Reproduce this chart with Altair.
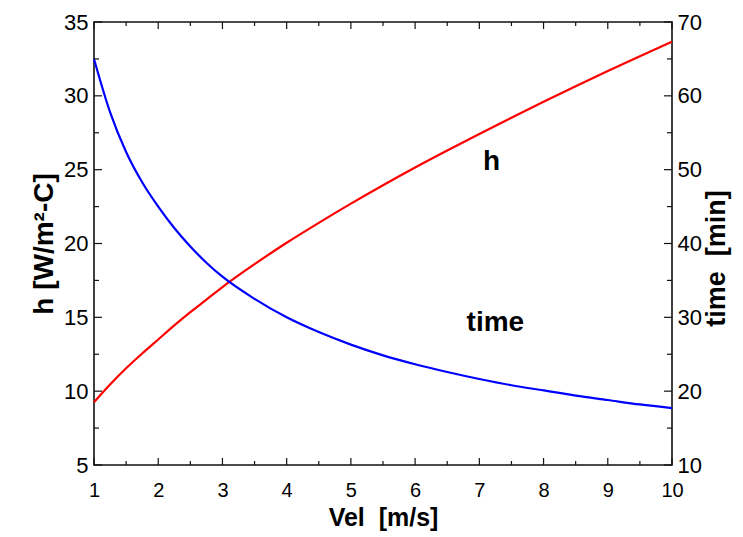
import altair as alt
import pandas as pd

# ---- data ----
vel = [1, 1.25, 1.5, 1.75, 2, 2.25, 2.5, 2.75, 3, 3.5, 4, 4.5, 5, 5.5, 6, 6.5, 7, 7.5, 8,
       8.5, 9, 9.5, 10]
h_vals = [9.25, 10.45, 11.55, 12.55, 13.5, 14.45, 15.35, 16.2, 17.05, 18.6, 20.05, 21.4,
          22.7, 23.95, 25.15, 26.3, 27.42, 28.52, 29.6, 30.65, 31.68, 32.68, 33.66]
time_vals = [65.0, 57.8, 52.4, 48.3, 45.0, 42.1, 39.6, 37.4, 35.5, 32.5, 30.0, 28.0, 26.3,
             24.85, 23.65, 22.6, 21.65, 20.8, 20.1, 19.4, 18.8, 18.2, 17.7]

x_major = [1, 2, 3, 4, 5, 6, 7, 8, 9, 10]
x_minor = [1.5, 2.5, 3.5, 4.5, 5.5, 6.5, 7.5, 8.5, 9.5]
h_major = [5, 10, 15, 20, 25, 30, 35]
h_minor = [7.5, 12.5, 17.5, 22.5, 27.5, 32.5]
time_major = [10, 20, 30, 40, 50, 60, 70]
time_minor = [15, 25, 35, 45, 55, 65]

ann_text = ["h", "time"]
ann_vel = [7.19, 7.25]
ann_h = [25.5, 14.6]

W, H = 578, 443
FONT = "Liberation Sans, Arial, Helvetica, sans-serif"
INK = "#111111"
NB = "\u00a0"

df = pd.DataFrame({"vel": vel, "h": h_vals, "time": time_vals})
ann = pd.DataFrame({"text": ann_text, "vel": ann_vel, "h": ann_h})

xscale = alt.Scale(domain=[1, 10], nice=False, zero=False)
hscale = alt.Scale(domain=[5, 35], nice=False, zero=False)
tscale = alt.Scale(domain=[10, 70], nice=False, zero=False)

common = dict(domain=False, ticks=False, grid=False, labelColor="black", titleColor="black",
              labelFlush=False, labelOverlap=False, labelFont=FONT, titleFont=FONT,
              titleFontWeight="bold")

x_bottom = alt.Axis(orient="bottom", values=x_major, format="d", labelPadding=15,
                    labelFontSize=20, title="Vel" + NB + NB + "[m/s]", titleFontSize=25,
                    titlePadding=5, **common)
y_left = alt.Axis(orient="left", values=h_major, format="d", labelPadding=6, labelFontSize=22,
                  title="h" + NB + "[W/m²-C]", titleFontSize=28, titlePadding=5, **common)
y_right = alt.Axis(orient="right", values=time_major, format="d", labelPadding=5,
                   labelFontSize=22, title="time" + NB + NB + "[min]", titleFontSize=27,
                   titlePadding=2, titleAngle=270, titleBaseline="top", titleY=236, **common)


def tick_layer(values, side, length):
    d = pd.DataFrame({"v": values})
    base = alt.Chart(d).mark_rule(color=INK, strokeWidth=1.2)
    if side == "left":
        return base.encode(y=alt.Y("v:Q", scale=hscale, axis=None),
                           x=alt.value(0), x2=alt.value(length))
    if side == "right":
        return base.encode(y=alt.Y("v:Q", scale=tscale, axis=None),
                           x=alt.value(W - length), x2=alt.value(W))
    if side == "bottom":
        return base.encode(x=alt.X("v:Q", scale=xscale, axis=None),
                           y=alt.value(H - length), y2=alt.value(H))
    return base.encode(x=alt.X("v:Q", scale=xscale, axis=None),
                       y=alt.value(0), y2=alt.value(length))


red = alt.Chart(df).mark_line(color="#ff0000", strokeWidth=2.2, interpolate="monotone").encode(
    x=alt.X("vel:Q", scale=xscale, axis=x_bottom),
    y=alt.Y("h:Q", scale=hscale, axis=y_left),
)

blue = alt.Chart(df).mark_line(color="#0000ff", strokeWidth=2.2, interpolate="monotone").encode(
    x=alt.X("vel:Q", scale=xscale, axis=None),
    y=alt.Y("time:Q", scale=tscale, axis=y_right),
)

labels = alt.Chart(ann).mark_text(font=FONT, fontSize=28, fontWeight="bold", color="black",
                                  align="center", baseline="middle").encode(
    x=alt.X("vel:Q", scale=xscale, axis=None),
    y=alt.Y("h:Q", scale=hscale, axis=None),
    text="text:N",
)

ticks = [
    tick_layer(h_major, "left", 8), tick_layer(h_minor, "left", 5),
    tick_layer(time_major, "right", 8), tick_layer(time_minor, "right", 5),
    tick_layer(x_major, "bottom", 7), tick_layer(x_minor, "bottom", 4),
    tick_layer(x_major, "top", 7), tick_layer(x_minor, "top", 4),
]

chart = alt.layer(red, blue, labels, *ticks).resolve_scale(y="independent").resolve_axis(
    x="independent").properties(
    width=W, height=H,
    autosize=alt.AutoSizeParams(type="none"),
    padding={"left": 86, "top": 14, "right": 63, "bottom": 70},
    background="white",
).configure_view(stroke=INK, strokeWidth=1.6)

chart.save("out.html", embed_options={"renderer": "svg", "actions": False})
